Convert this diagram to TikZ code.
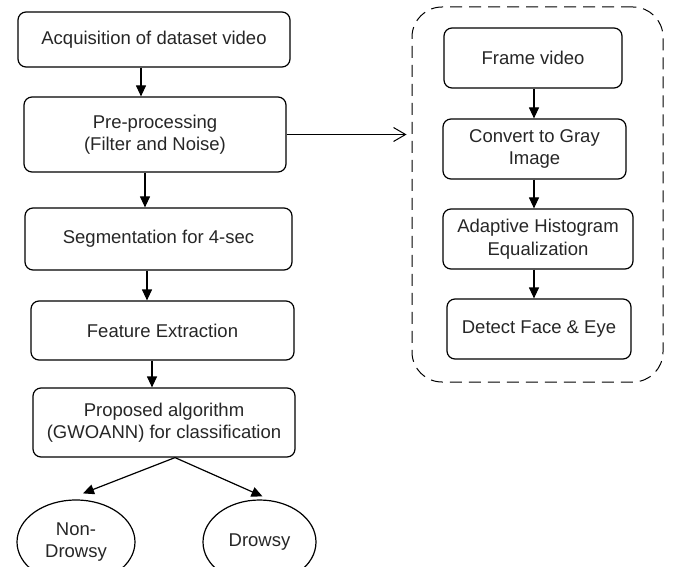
\documentclass[tikz,border=0pt]{standalone}
\usepackage{fontspec}
\setmainfont{Liberation Sans}
\usetikzlibrary{arrows.meta,shapes.geometric}

\begin{document}
\begin{tikzpicture}[x=1pt,y=-1pt]

	\tikzstyle process box=[draw, rounded corners=8pt, line width=1.2pt, inner sep=0pt, align=center, font=\fontsize{18.5}{22.5}\selectfont, text=black!85];
	\tikzstyle class oval=[draw, ellipse, line width=1.2pt, inner sep=0pt, align=center, font=\fontsize{18.5}{22.5}\selectfont, text=black!85];
	\tikzstyle flow lines=[line width=1.2pt, -{Triangle[length=11pt,width=10pt]}];
	\tikzstyle group lines=[draw, line width=1pt, dash pattern=on 12pt off 7pt, rounded corners=30pt];

	\useasboundingbox (0,0) rectangle (675,567);

	% dashed frame around the pre-processing stages
	\node[group lines, minimum width=251pt, minimum height=375pt] (stages) at (537.5,194.5) {};

	% main pipeline
	\node[process box, minimum width=272pt, minimum height=55pt] (acq) at (154,39.5) {Acquisition of dataset video};
	\node[process box, minimum width=262pt, minimum height=75pt] (pre) at (155,134.5) {Pre-processing\\(Filter and Noise)};
	\node[process box, minimum width=267pt, minimum height=62pt] (seg) at (158.5,239) {Segmentation for 4-sec};
	\node[process box, minimum width=263pt, minimum height=59pt] (feat) at (162.5,330.5) {Feature Extraction};
	\node[process box, minimum width=262pt, minimum height=69pt] (prop) at (164,422.5) {Proposed algorithm\\(GWOANN) for classification};

	\node[class oval, minimum width=118pt, minimum height=84pt] (nondrowsy) at (76,542) {Non-\\Drowsy};
	\node[class oval, minimum width=113pt, minimum height=84pt] (drowsy) at (259.5,542) {Drowsy};

	% pre-processing stages
	\node[process box, minimum width=178pt, minimum height=60pt] (frame) at (533,58) {Frame video};
	\node[process box, minimum width=183pt, minimum height=60pt] (gray) at (534.5,149) {Convert to Gray\\Image};
	\node[process box, minimum width=190pt, minimum height=60pt] (hist) at (538,239) {Adaptive Histogram\\Equalization};
	\node[process box, minimum width=184pt, minimum height=60pt] (detect) at (539,329) {Detect Face \& Eye};

	\foreach \a/\b/\dx in {acq/pre/-13, pre/seg/-10, seg/feat/-11.5, feat/prop/-10.5, frame/gray/1, gray/hist/-0.5, hist/detect/-4}
		\draw[flow lines] ([xshift=\dx pt]\a.south) -- ([xshift=\dx pt]\a.south |- \b.north);

	\draw[flow lines] ([xshift=11pt]prop.south) -- ([shift={(7pt,6pt)}]nondrowsy.north);
	\draw[flow lines] ([xshift=11pt]prop.south) -- ([shift={(3pt,3pt)}]drowsy.north);

	\draw[line width=1pt, -{Straight Barb[length=12pt,width=14pt]}, shorten >=5pt] (pre.east) -- (pre.east -| stages.west);

\end{tikzpicture}
\end{document}
